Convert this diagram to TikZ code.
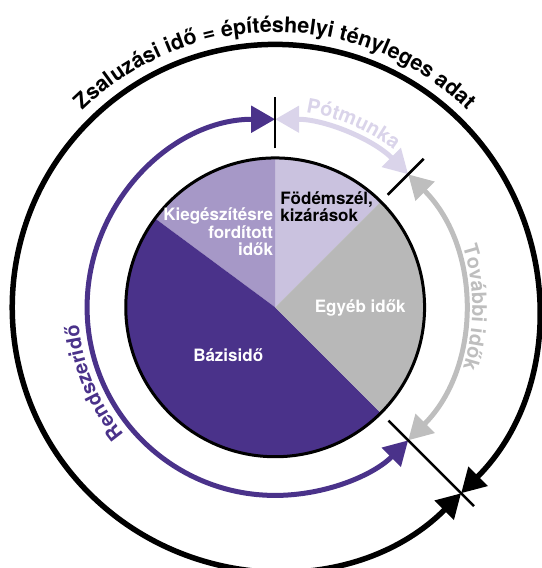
\documentclass[tikz,border=0pt]{standalone}
\usepackage{fontspec}
\setmainfont{TeX Gyre Heros}
\definecolor{bazispurple}{RGB}{74, 50, 138}
\definecolor{kiegpurple}{RGB}{166, 152, 199}
\definecolor{fodemlilac}{RGB}{202, 194, 223}
\definecolor{egyebgray}{RGB}{184, 184, 184}
\definecolor{potlilac}{RGB}{218, 212, 234}
\definecolor{tovabbgray}{RGB}{190, 190, 190}
\usetikzlibrary{arrows.meta, decorations.text}

\begin{document}
\begin{tikzpicture}[
  >={Triangle[length=24pt, width=26pt]},
  slicetxt/.style={font=\bfseries\fontsize{17}{17.5}\selectfont, inner sep=0pt},
  divider/.style={line width=2.5pt},
  timearc/.style={line width=5pt, <->},
  arclabel/.style={decorate, decoration={text along path, text align=center, text color=#1}}
]
  \useasboundingbox (-9.67,-9.16) rectangle (9.35,10.80);

  % pie slices
  \fill[fodemlilac] (0,0) -- (45:5.25) arc[start angle=45, end angle=90, radius=5.25] -- cycle;
  \fill[kiegpurple] (0,0) -- (90:5.25) arc[start angle=90, end angle=143.5, radius=5.25] -- cycle;
  \fill[bazispurple] (0,0) -- (143.5:5.25) arc[start angle=143.5, end angle=315, radius=5.25] -- cycle;
  \fill[egyebgray] (0,0) -- (-45:5.25) arc[start angle=-45, end angle=45, radius=5.25] -- cycle;
  \draw[line width=3pt] (0,0) circle[radius=5.25];

  \node[slicetxt, anchor=base west, align=left] (fodem) at (0.18,3.01) {Födémszél,\\kizárások};
  \node[slicetxt, text=white, anchor=base east, align=right] (kieg) at (-0.07,1.81) {Kiegészítésre\\fordított\\idők};
  \node[slicetxt, text=white, anchor=base] (egyeb) at (2.99,-0.19) {Egyéb idők};
  \node[slicetxt, text=white, anchor=base] (bazis) at (-1.65,-1.92) {Bázisidő};

  % time arcs
  \coordinate (m90) at (90:6.61);
  \coordinate (m45) at (45:6.61);
  \coordinate (o315) at (-45:9.24);
  \draw[timearc, bazispurple] (m90) arc[start angle=90, end angle=315, radius=6.61];
  \draw[timearc, potlilac] (m90) arc[start angle=90, end angle=45, radius=6.61];
  \draw[timearc, tovabbgray] (m45) arc[start angle=45, end angle=-45, radius=6.61];
  \draw[timearc, line width=5.5pt] (o315) arc[start angle=-45, end angle=315, radius=9.24];

  % dividers
  \coordinate (p90a) at (90:5.59);
  \coordinate (p90b) at (90:7.38);
  \coordinate (p45a) at (45:5.59);
  \coordinate (p45b) at (45:7.38);
  \coordinate (p315a) at (-45:5.63);
  \coordinate (p315b) at (-45:9.88);
  \draw[divider] (p90a) -- (p90b);
  \draw[divider] (p45a) -- (p45b);
  \draw[divider] (p315a) -- (p315b);

  % curved labels
  \path[arclabel=black, decoration={text={|\bfseries\fontsize{21.5}{22}\selectfont|Zsaluzási idő = építéshelyi tényleges adat}}]
    (180:9.67) arc[start angle=180, end angle=0, radius=9.67];
  \path[arclabel=potlilac, decoration={text={|\bfseries\fontsize{20}{20}\selectfont|Pótmunka}}]
    (112:6.93) arc[start angle=112, end angle=22, radius=6.93];
  \path[arclabel=tovabbgray, decoration={text={|\bfseries\fontsize{20}{20}\selectfont|További idők}}]
    (45:6.93) arc[start angle=45, end angle=-45, radius=6.93];
  \path[arclabel=bazispurple, decoration={text={|\bfseries\fontsize{20}{20}\selectfont|Rendszeridő}}]
    (247.5:6.93) arc[start angle=247.5, end angle=157.5, radius=6.93];
\end{tikzpicture}
\end{document}
